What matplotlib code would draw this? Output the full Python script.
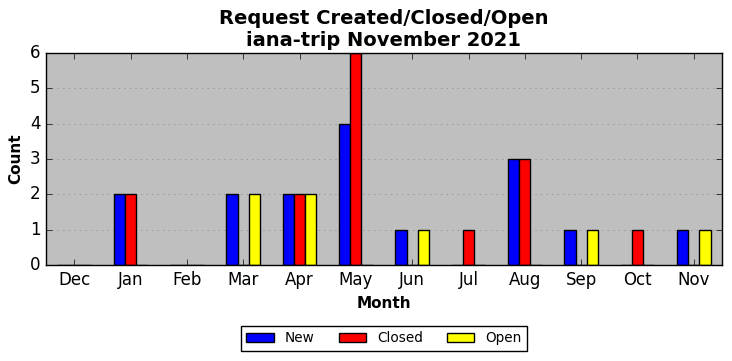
import numpy as np
import matplotlib
matplotlib.use('Agg')
import matplotlib.pyplot as plt

months = ['Dec', 'Jan', 'Feb', 'Mar', 'Apr', 'May', 'Jun', 'Jul', 'Aug', 'Sep', 'Oct', 'Nov']
new = [0, 2, 0, 2, 2, 4, 1, 0, 3, 1, 0, 1]
closed = [0, 2, 0, 0, 2, 6, 0, 1, 3, 0, 1, 0]
opened = [0, 0, 0, 2, 2, 0, 1, 0, 0, 1, 0, 1]

plt.style.use('classic')
fig = plt.figure(figsize=(7.32, 3.61), dpi=100)
ax = fig.add_axes([46 / 732, 96 / 361, 676 / 732, 212 / 361])
ax.set_facecolor('#bfbfbf')

x = np.arange(len(months))
w = 0.2
ax.bar(x - w, new, w, color='blue', edgecolor='black', label='New', align='center')
ax.bar(x, closed, w, color='red', edgecolor='black', label='Closed', align='center')
ax.bar(x + w, opened, w, color='yellow', edgecolor='black', label='Open', align='center')

ax.set_xlim(-0.5, 11.5)
ax.set_ylim(0, 6)
ax.set_xticks(x)
ax.set_xticklabels(months)
ax.yaxis.grid(True, linestyle=':', color='#888888')
ax.set_axisbelow(True)
ax.tick_params(labelsize=12)
ax.set_xlabel('Month', fontsize=11, fontweight='bold')
ax.set_ylabel('Count', fontsize=11, fontweight='bold')
ax.set_title('Request Created/Closed/Open\niana-trip November 2021', fontsize=14, fontweight='bold')
ax.legend(loc='upper center', bbox_to_anchor=(0.5, -0.255), ncol=3, fontsize=9.8,
          columnspacing=1.8)

fig.savefig('out.png', dpi=100)
